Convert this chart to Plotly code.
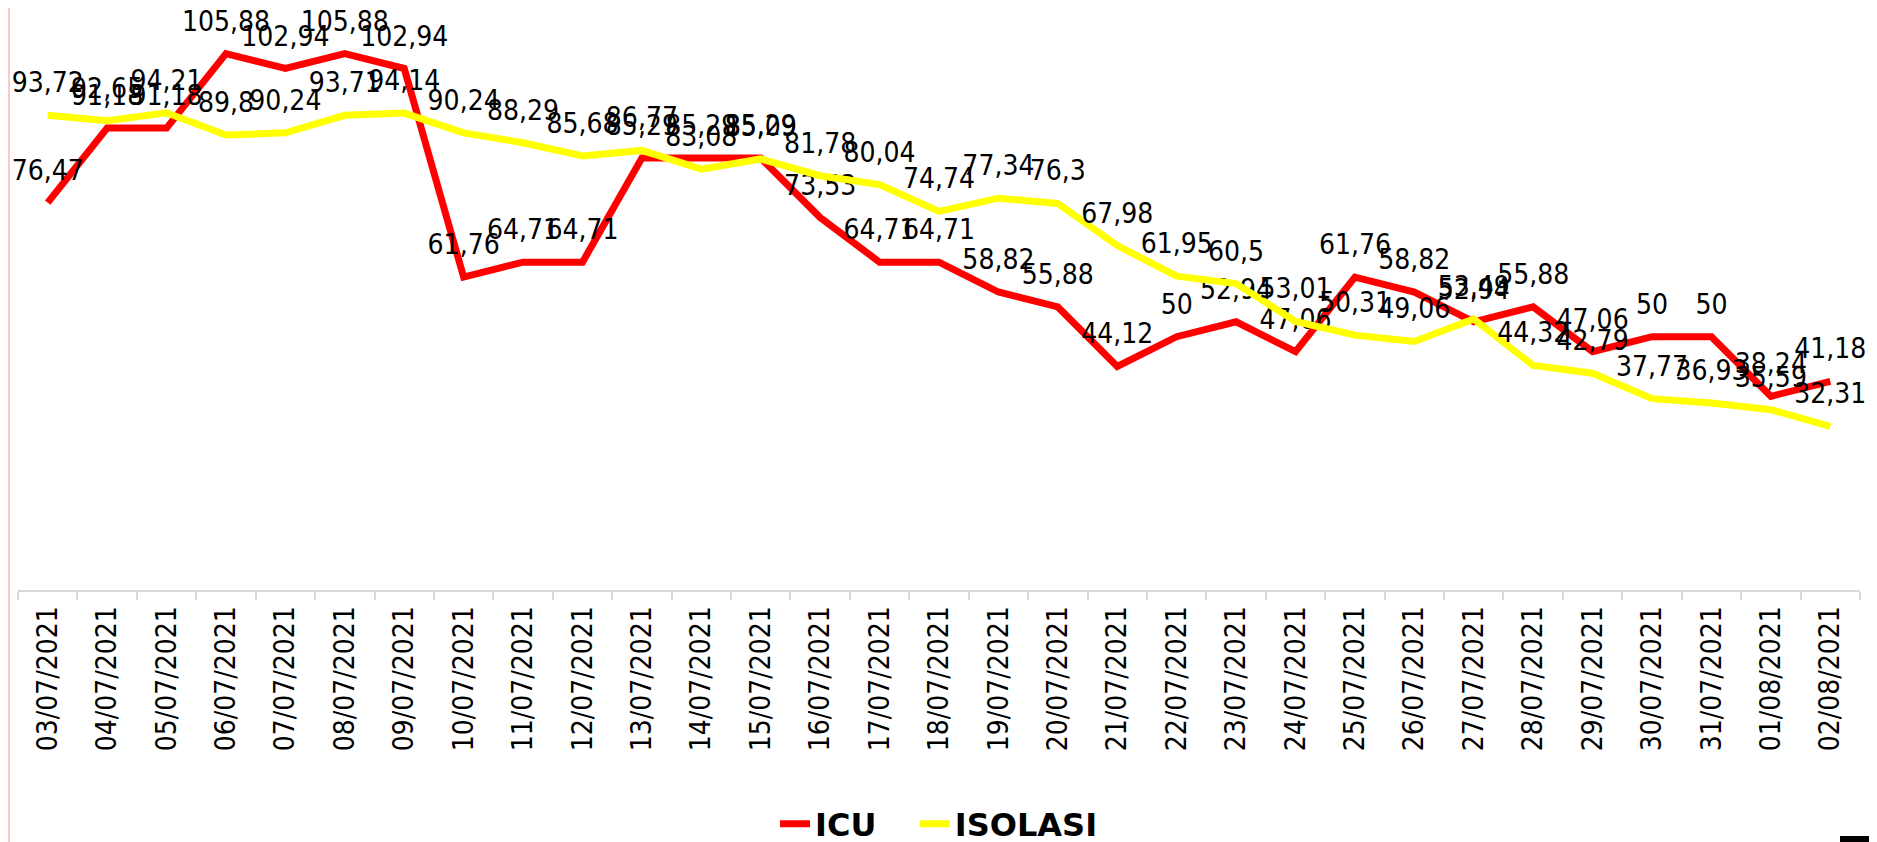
import plotly.graph_objects as go

# ─── Data ─────────────────────────────────────────────────────────────────────
DATES = [
    "03/07/2021", "04/07/2021", "05/07/2021", "06/07/2021", "07/07/2021",
    "08/07/2021", "09/07/2021", "10/07/2021", "11/07/2021", "12/07/2021",
    "13/07/2021", "14/07/2021", "15/07/2021", "16/07/2021", "17/07/2021",
    "18/07/2021", "19/07/2021", "20/07/2021", "21/07/2021", "22/07/2021",
    "23/07/2021", "24/07/2021", "25/07/2021", "26/07/2021", "27/07/2021",
    "28/07/2021", "29/07/2021", "30/07/2021", "31/07/2021", "01/08/2021",
    "02/08/2021",
]
ICU = [
    76.47, 91.18, 91.18, 105.88, 102.94, 105.88, 102.94, 61.76, 64.71, 64.71,
    85.29, 85.29, 85.29, 73.53, 64.71, 64.71, 58.82, 55.88, 44.12, 50,
    52.94, 47.06, 61.76, 58.82, 52.94, 55.88, 47.06, 50, 50, 38.24,
    41.18,
]
ISOLASI = [
    93.72, 92.65, 94.21, 89.8, 90.24, 93.71, 94.14, 90.24, 88.29, 85.68,
    86.77, 83.08, 85.09, 81.78, 80.04, 74.74, 77.34, 76.3, 67.98, 61.95,
    60.5, 53.01, 50.31, 49.06, 53.49, 44.32, 42.79, 37.77, 36.93, 35.59,
    32.31,
]

# ─── Page geometry (page pixels) ─────────────────────────────────────────────
PAGE_W, PAGE_H = 1877, 842
BODY = 8                                 # default <body> margin of the html page
W, H = PAGE_W - BODY, PAGE_H - BODY      # figure size
L, R, T, B = 18, 1860, 10, 590           # plot box, in page pixels
PX_PER_UNIT = 5.066
LABEL_FONT = "DejaVu Sans Condensed, Noto Sans, DejaVu Sans, sans-serif"
NBSP = "\u00a0"


def comma(v):
    return f"{v:g}".replace(".", ",")


def px_x(x):
    return (x - L) / (R - L)


def px_y(y):
    return (B - y) / (B - T)


fig = go.Figure()
series = [("ICU" + NBSP * 3, ICU, "#ff0000"), ("ISOLASI", ISOLASI, "#ffff00")]
for name, vals, color in series:
    fig.add_trace(
        go.Scatter(
            x=DATES,
            y=vals,
            name=name,
            mode="lines+markers+text",
            line=dict(color=color, width=7),
            # invisible markers only push the value labels up off the line
            marker=dict(size=24, color="rgba(0,0,0,0)"),
            text=[comma(v) for v in vals],
            textposition="top center",
            textfont=dict(family=LABEL_FONT, size=28, color="#000000"),
            cliponaxis=False,
        )
    )

fig.update_layout(
    width=W,
    height=H,
    margin=dict(l=L - BODY, r=PAGE_W - R, t=T - BODY, b=PAGE_H - B,
                pad=0, autoexpand=False),
    paper_bgcolor="white",
    plot_bgcolor="white",
    font=dict(family=LABEL_FONT, color="#000000"),
    showlegend=True,
    legend=dict(
        orientation="h",
        x=0.5,
        xanchor="center",
        y=px_y(824),
        yanchor="middle",
        font=dict(family="DejaVu Sans", size=32, color="#000000", weight="bold"),
    ),
    xaxis=dict(
        type="category",
        range=[-0.5, len(DATES) - 0.5],
        showgrid=False,
        zeroline=False,
        showline=True,
        linecolor="#d9d9d9",
        linewidth=2,
        ticks="outside",
        tickson="boundaries",
        ticklen=8,
        tickcolor="#d9d9d9",
        tickwidth=2,
        tickangle=-90,
        ticklabelstandoff=3,
        tickfont=dict(family=LABEL_FONT, size=28, color="#000000"),
    ),
    yaxis=dict(
        range=[0, (B - T) / PX_PER_UNIT],
        visible=False,
        showgrid=False,
        zeroline=False,
    ),
    shapes=[
        # thin pink border on the left edge of the picture
        dict(type="line", xref="paper", yref="paper",
             x0=px_x(BODY + 1), x1=px_x(BODY + 1),
             y0=px_y(PAGE_H), y1=px_y(BODY),
             line=dict(color="#ffc8c8", width=2)),
        # small black block in the bottom-right corner
        dict(type="rect", xref="paper", yref="paper",
             x0=px_x(1840), x1=px_x(PAGE_W), y0=px_y(PAGE_H), y1=px_y(836),
             fillcolor="#000000", line=dict(width=0)),
    ],
)

fig.write_html("out.html")
